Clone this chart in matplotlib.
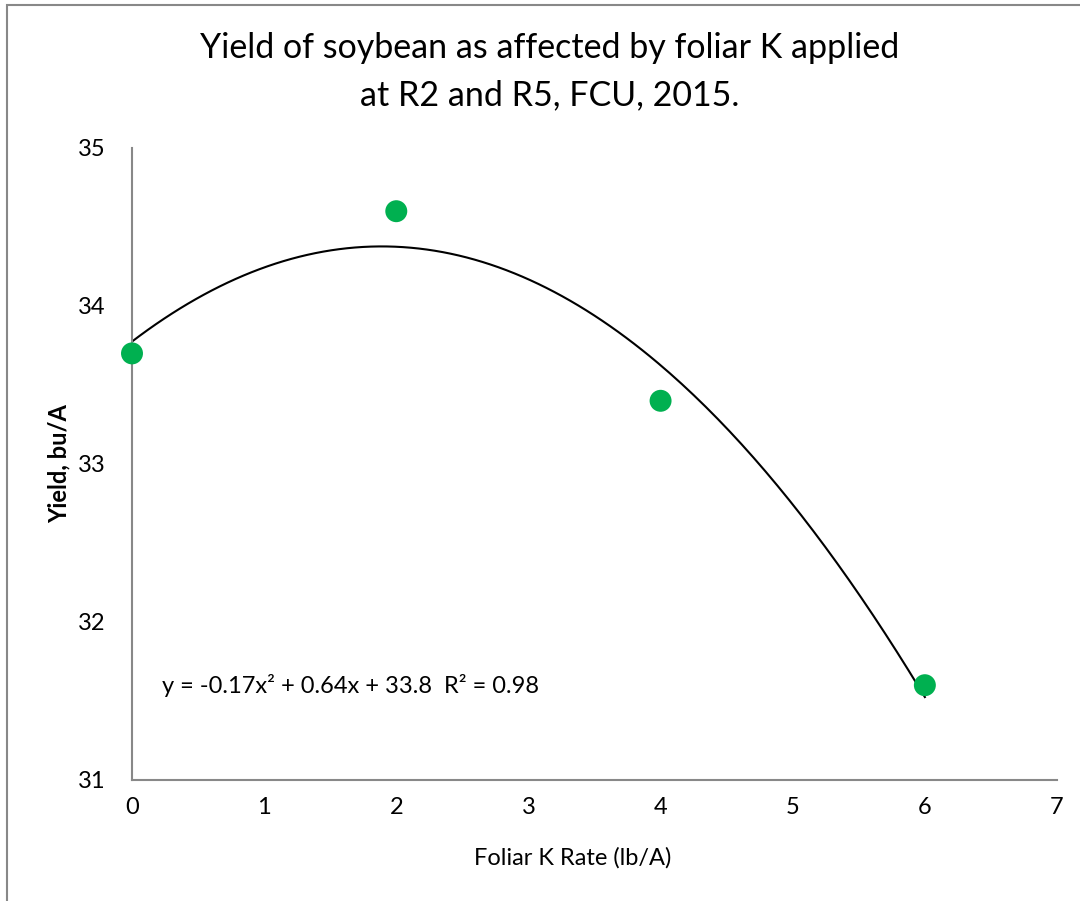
import numpy as np
import matplotlib
matplotlib.use("Agg")
from matplotlib import pyplot as plt
from matplotlib.patches import Rectangle

plt.rcParams["font.family"] = ["Lato", "DejaVu Sans"]

# data
k_rate = [0, 2, 4, 6]
yield_bu = [33.7, 34.6, 33.4, 31.6]
x_ticks = [0, 1, 2, 3, 4, 5, 6, 7]
y_ticks = [31, 32, 33, 34, 35]
equation_text = "y = -0.17x\u00b2 + 0.64x + 33.8  R\u00b2 = 0.98"

fig = plt.figure(figsize=(10.8, 9.01), dpi=100)
ax = fig.add_axes([132 / 1080, 1 - 780 / 901, (1057 - 132) / 1080, (780 - 148) / 901])

# chart area border (cut by the image on right/bottom)
fig.patches.append(Rectangle((7 / 1080, -0.1), 1.2, 1 - 5 / 901 + 0.1,
                             transform=fig.transFigure, fill=False,
                             edgecolor="#888888", linewidth=1.5, zorder=0))

# quadratic trendline
coef = np.polyfit(k_rate, yield_bu, 2)
xs = np.linspace(min(k_rate), max(k_rate), 200)
ax.plot(xs, np.polyval(coef, xs), color="black", linewidth=1.5, zorder=2)

ax.scatter(k_rate, yield_bu, s=250, color="#00B050", edgecolors="none",
           zorder=3, clip_on=False)

ax.set_xlim(0, 7)
ax.set_ylim(31, 35)
ax.set_xticks(x_ticks)
ax.set_yticks(y_ticks)
ax.tick_params(length=0, labelsize=17)
ax.tick_params(axis="x", pad=12)
ax.tick_params(axis="y", pad=19)
for side in ["top", "right"]:
    ax.spines[side].set_visible(False)
for side in ["left", "bottom"]:
    ax.spines[side].set_color("#888888")
    ax.spines[side].set_linewidth(1.5)

ax.set_xlabel("Foliar K Rate (lb/A)", fontsize=17)
ax.xaxis.set_label_coords(0.476, -(858 - 780) / 632, transform=ax.transAxes)
ax.xaxis.label.set_va("center")
ax.set_ylabel("Yield, bu/A", fontsize=17, fontweight="bold")
ax.yaxis.set_label_coords(-(133 - 60) / 925, 0.5, transform=ax.transAxes)
ax.yaxis.label.set_va("center")

ax.text(0.23, 31.6, equation_text, fontsize=17, va="center", ha="left")

fig.text(550 / 1080, 1 - 48 / 901, "Yield of soybean as affected by foliar K applied",
         fontsize=24.5, ha="center", va="center")
fig.text(550 / 1080, 1 - 95 / 901, "at R2 and R5, FCU, 2015.",
         fontsize=24.5, ha="center", va="center")

fig.savefig("out.png", dpi=100)
